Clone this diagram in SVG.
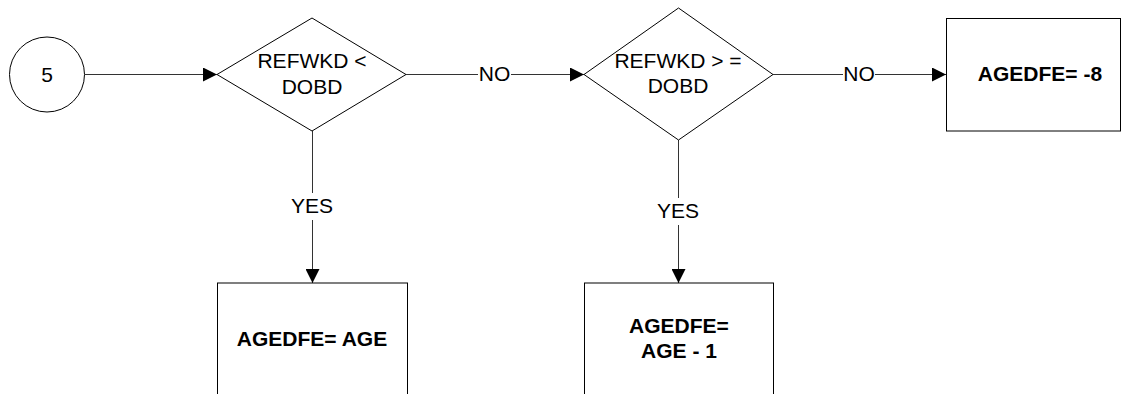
<svg xmlns="http://www.w3.org/2000/svg" width="1124" height="394" viewBox="0 0 1124 394">
<defs>
<style>
.shape{fill:#fff;stroke:#000;stroke-width:1}
.ln{fill:none;stroke:#333;stroke-width:1}
.t{font-family:"Liberation Sans",Arial,sans-serif;font-size:21px;fill:#000;text-anchor:middle}
.b{font-weight:bold}
</style>
<marker id="ah" viewBox="0 0 14 14" refX="14" refY="7" markerWidth="14" markerHeight="14" markerUnits="userSpaceOnUse" orient="auto">
<path d="M0,0 L14,7 L0,14 Z" fill="#000"/>
</marker>
</defs>
<rect width="1124" height="394" fill="#fff"/>
<g id="connectors">
<line class="ln" x1="85" y1="74.5" x2="217" y2="74.5" marker-end="url(#ah)"/>
<line class="ln" x1="406" y1="74.5" x2="478" y2="74.5"/>
<line class="ln" x1="511" y1="74.5" x2="584" y2="74.5" marker-end="url(#ah)"/>
<text class="t" x="494.5" y="81">NO</text>
<line class="ln" x1="773" y1="74.5" x2="843" y2="74.5"/>
<line class="ln" x1="875" y1="74.5" x2="946" y2="74.5" marker-end="url(#ah)"/>
<text class="t" x="859" y="81">NO</text>
<line class="ln" x1="312.5" y1="131" x2="312.5" y2="193"/>
<line class="ln" x1="312.5" y1="220" x2="312.5" y2="283" marker-end="url(#ah)"/>
<text class="t" x="312" y="213">YES</text>
<line class="ln" x1="678.5" y1="140" x2="678.5" y2="198"/>
<line class="ln" x1="678.5" y1="225" x2="678.5" y2="283" marker-end="url(#ah)"/>
<text class="t" x="678" y="218">YES</text>
</g>
<g id="n5">
<circle class="shape" cx="47" cy="74.5" r="37.5"/>
<text class="t" x="47" y="82">5</text>
</g>
<g id="d1">
<polygon class="shape" points="217,74.5 312,18 406,74.5 312,131"/>
<text class="t" x="312" y="68">REFWKD &lt;</text>
<text class="t" x="312" y="94">DOBD</text>
</g>
<g id="d2">
<polygon class="shape" points="584,74.5 678.5,8 773,74.5 678.5,140"/>
<text class="t" x="678" y="68">REFWKD &gt; =</text>
<text class="t" x="678" y="93">DOBD</text>
</g>
<g id="b3">
<rect class="shape" x="946.5" y="18.5" width="174" height="112.5"/>
<text class="t b" x="1040" y="81">AGEDFE= -8</text>
</g>
<g id="b1">
<rect class="shape" x="217.5" y="283" width="190" height="130"/>
<text class="t b" x="312" y="346">AGEDFE= AGE</text>
</g>
<g id="b2">
<rect class="shape" x="584.5" y="283" width="189" height="130"/>
<text class="t b" x="679" y="333">AGEDFE=</text>
<text class="t b" x="679" y="358">AGE - 1</text>
</g>
</svg>
